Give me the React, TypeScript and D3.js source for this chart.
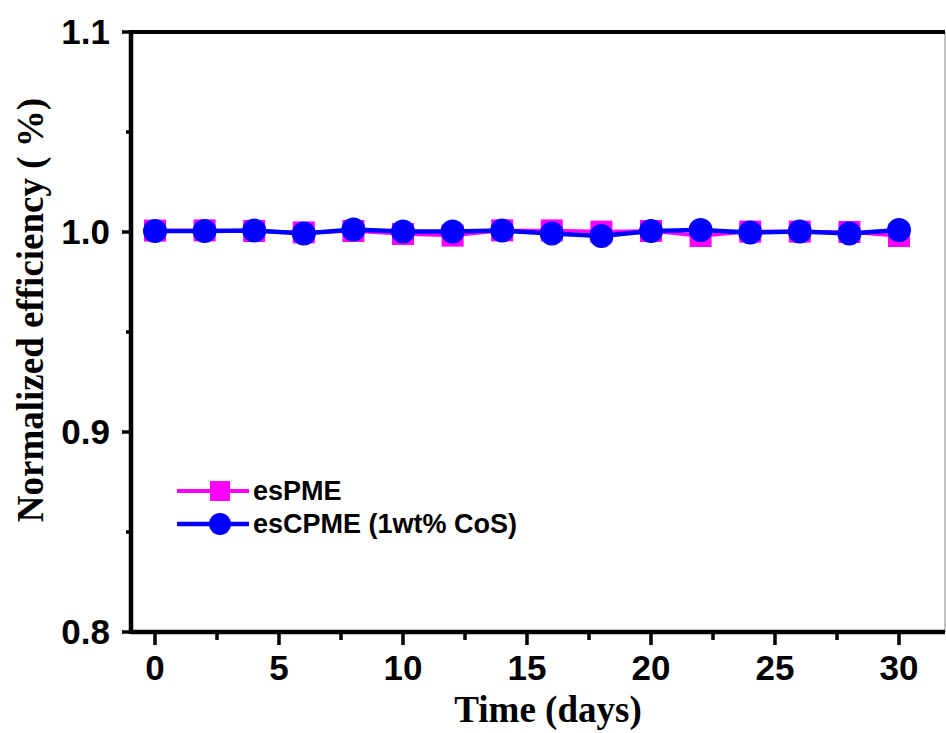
import React from "react";
import * as d3 from "d3";

const days = [0, 2, 4, 6, 8, 10, 12, 14, 16, 18, 20, 22, 24, 26, 28, 30];
const esPME = [1.0007, 1.0008, 1.0005, 0.9998, 1.0005, 0.999, 0.9982, 1.0008, 1.0008, 1.0002, 1.0005, 0.998, 1.0002, 1.0002, 1.0, 0.998];
const esCPME = [1.0005, 1.0005, 1.0008, 0.9992, 1.0013, 1.0002, 1.0002, 1.0007, 0.9993, 0.998, 1.0005, 1.001, 0.9997, 1.0002, 0.9992, 1.001];
const xTicks = [0, 5, 10, 15, 20, 25, 30];
const xMinor = [2.5, 7.5, 12.5, 17.5, 22.5, 27.5];
const yTicks = [0.8, 0.9, 1.0, 1.1];
const yMinor = [0.85, 0.95, 1.05];
const seriesNames = ["esPME", "esCPME (1wt% CoS)"];

const W = 946;
const H = 733;
const left = 131;
const right = 945;
const top = 32;
const bottom = 632;

export default function App() {
  const x = d3.scaleLinear().domain([0, 30]).range([155, 899]);
  const y = d3.scaleLinear().domain([0.8, 1.1]).range([bottom, top]);
  const line = d3
    .line<number>()
    .x((_, i) => x(days[i]))
    .y((d) => y(d));

  const sans = "'Liberation Sans', Arial, sans-serif";
  const serif = "'Liberation Serif', 'Times New Roman', serif";

  return (
    <svg
      width={W}
      height={H}
      style={{ position: "absolute", left: 0, top: 0, background: "#fff" }}
    >
      {/* frame */}
      <line x1={right} x2={right} y1={top} y2={bottom} stroke="#999" strokeWidth={1.2} />
      <line x1={left} x2={right} y1={top} y2={top} stroke="#000" strokeWidth={4} />
      <line x1={left} x2={right} y1={bottom} y2={bottom} stroke="#000" strokeWidth={4.5} />
      <line x1={left} x2={left} y1={top - 2} y2={bottom + 2} stroke="#000" strokeWidth={4.5} />

      {/* y ticks */}
      {yTicks.map((t) => (
        <g key={"y" + t}>
          <line x1={left - 9} x2={left} y1={y(t)} y2={y(t)} stroke="#000" strokeWidth={3.5} />
          <text
            x={110}
            y={y(t) + 12}
            textAnchor="end"
            fontFamily={sans}
            fontWeight="bold"
            fontSize={35}
            fill="#000"
          >
            {t.toFixed(1)}
          </text>
        </g>
      ))}
      {yMinor.map((t) => (
        <line key={"ym" + t} x1={left - 5} x2={left} y1={y(t)} y2={y(t)} stroke="#000" strokeWidth={3.5} />
      ))}

      {/* x ticks */}
      {xTicks.map((t) => (
        <g key={"x" + t}>
          <line x1={x(t)} x2={x(t)} y1={bottom} y2={bottom + 13} stroke="#000" strokeWidth={3.5} />
          <text
            x={x(t)}
            y={680}
            textAnchor="middle"
            fontFamily={sans}
            fontWeight="bold"
            fontSize={35}
            fill="#000"
          >
            {t}
          </text>
        </g>
      ))}
      {xMinor.map((t) => (
        <line key={"xm" + t} x1={x(t)} x2={x(t)} y1={bottom} y2={bottom + 8} stroke="#000" strokeWidth={3.5} />
      ))}

      {/* axis titles */}
      <text
        x={548}
        y={722}
        textAnchor="middle"
        fontFamily={serif}
        fontWeight="bold"
        fontSize={37}
        fill="#000"
      >
        Time (days)
      </text>
      <text
        transform={`translate(43,310) rotate(-90)`}
        textAnchor="middle"
        fontFamily={serif}
        fontWeight="bold"
        fontSize={37}
        fill="#000"
      >
        Normalized efficiency ( %)
      </text>

      {/* series esPME */}
      <path d={line(esPME) || ""} fill="none" stroke="#ff00ff" strokeWidth={3.5} />
      {esPME.map((v, i) => (
        <rect
          key={"s" + i}
          x={x(days[i]) - 11}
          y={y(v) - 11}
          width={22}
          height={22}
          fill="#ff00ff"
        />
      ))}

      {/* series esCPME */}
      <path d={line(esCPME) || ""} fill="none" stroke="#0000ff" strokeWidth={4.5} />
      {esCPME.map((v, i) => (
        <circle key={"c" + i} cx={x(days[i])} cy={y(v)} r={12} fill="#0000ff" />
      ))}

      {/* legend */}
      <line x1={177} x2={249} y1={491} y2={491} stroke="#ff00ff" strokeWidth={4} />
      <rect x={210} y={481} width={20} height={20} fill="#ff00ff" />
      <text x={253} y={500} fontFamily={sans} fontWeight="bold" fontSize={27} fill="#000">
        {seriesNames[0]}
      </text>
      <line x1={177} x2={249} y1={524} y2={524} stroke="#0000ff" strokeWidth={4.5} />
      <circle cx={220} cy={524} r={11} fill="#0000ff" />
      <text x={253} y={533} fontFamily={sans} fontWeight="bold" fontSize={27} fill="#000">
        {seriesNames[1]}
      </text>
    </svg>
  );
}
